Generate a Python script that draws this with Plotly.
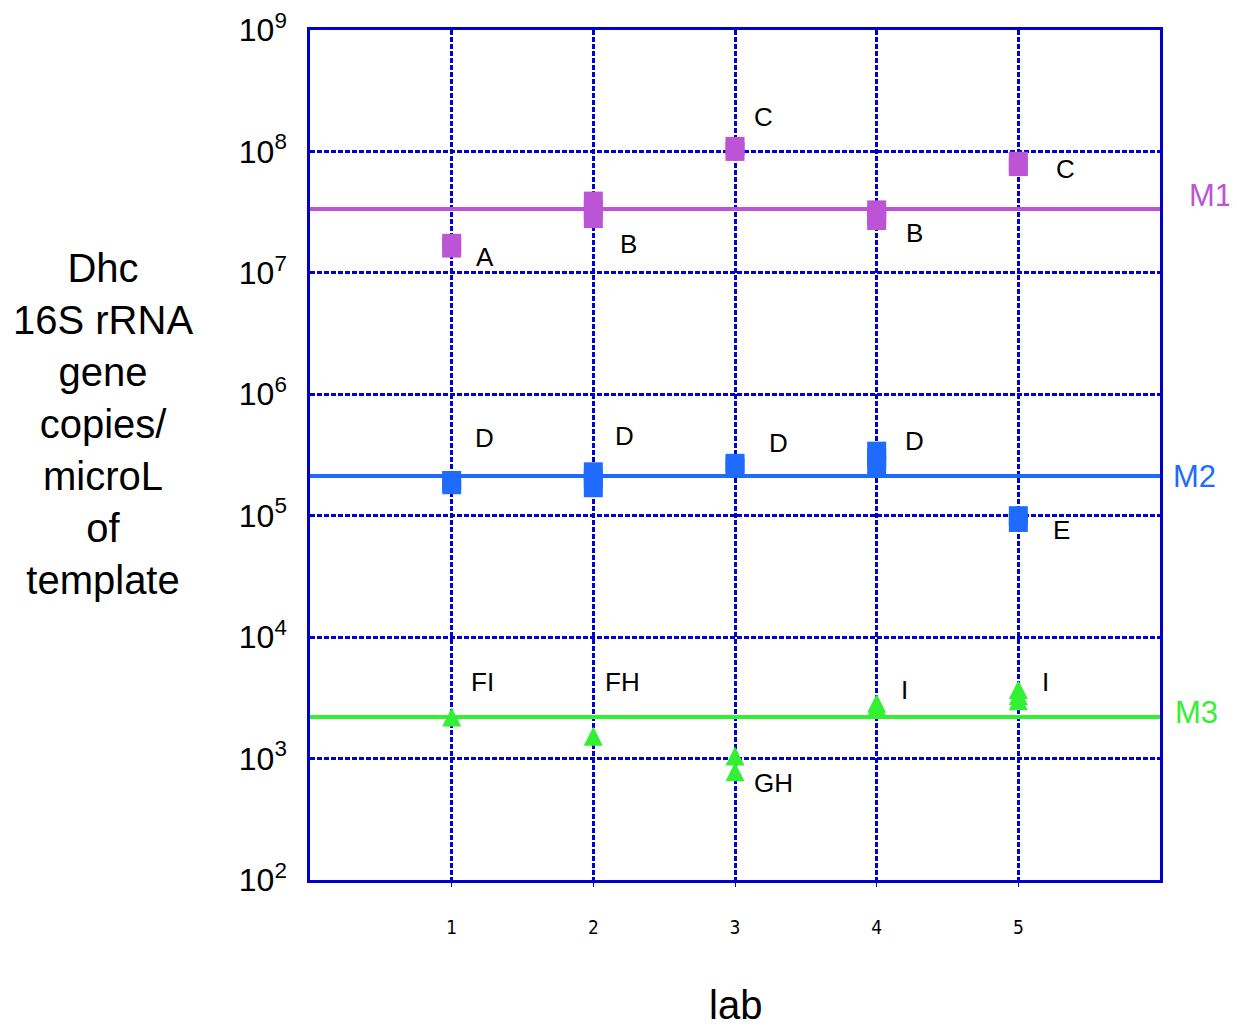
import math
import plotly.graph_objects as go

labs = [1, 2, 3, 4, 5]
lab_ticks = ["1", "2", "3", "4", "5"]

# replicate measurements per lab (copies/microL)
m1_x = [1, 1, 2, 2, 2, 3, 3, 4, 4, 4, 5, 5]
m1_y = [1.6e7, 1.75e7, 2.8e7, 3.3e7, 3.9e7, 1.0e8, 1.1e8, 2.7e7, 3.0e7, 3.3e7, 7.5e7, 8.3e7]
m2_x = [1, 1, 2, 2, 2, 3, 3, 4, 4, 4, 5, 5]
m2_y = [1.8e5, 1.95e5, 1.7e5, 2.0e5, 2.3e5, 2.5e5, 2.7e5, 2.6e5, 3.0e5, 3.4e5, 8.8e4, 1.0e5]
m3_x = [1, 2, 3, 3, 4, 4, 5, 5, 5]
m3_y = [2.2e3, 1.53e3, 1.05e3, 7.8e2, 2.65e3, 2.85e3, 3.0e3, 3.3e3, 3.7e3]

# method means (horizontal lines)
method_names = ["M1", "M2", "M3"]
method_means = [3.36e7, 2.12e5, 2.2e3]
method_colors = ["#BB55D6", "#1F6BFF", "#33F033"]
method_label_dx = [27, 11, 13]
method_label_dy = [13, 0, 4]

# significance letters
letters = ["A", "B", "C", "B", "C", "D", "D", "D", "D", "E", "FI", "FH", "GH", "I", "I"]
letter_x = [1.235, 2.245, 3.198, 4.264, 5.336, 1.235, 2.217, 3.304, 4.264, 5.308,
            1.221, 2.209, 3.275, 4.193, 5.195]
letter_logy = [7.131, 7.238, 8.283, 7.328, 7.855, 5.640, 5.656, 5.599, 5.615, 4.883,
               3.631, 3.631, 2.799, 3.565, 3.631]

y_tickvals = [1e2, 1e3, 1e4, 1e5, 1e6, 1e7, 1e8, 1e9]
y_ticktext = ["10<sup>%d</sup>" % k for k in range(2, 10)]

GRID = "#0000D0"
Y_RANGE = [2, 9]
PLOT_H = 850
TRI = 19
# overlay axis so that arrow-up triangles (tip anchored) appear centred on their value
tri_shift = (TRI / 2) / PLOT_H * (Y_RANGE[1] - Y_RANGE[0])

fig = go.Figure()

for name, mean, col in zip(method_names, method_means, method_colors):
    fig.add_trace(go.Scatter(x=[0, 6], y=[mean, mean], mode="lines",
                             line=dict(color=col, width=4), showlegend=False,
                             cliponaxis=False, hoverinfo="skip"))

fig.add_trace(go.Scatter(x=m1_x, y=m1_y, mode="markers", showlegend=False,
                         marker=dict(symbol="square", size=19, color=method_colors[0])))
fig.add_trace(go.Scatter(x=m2_x, y=m2_y, mode="markers", showlegend=False,
                         marker=dict(symbol="square", size=19, color=method_colors[1])))
fig.add_trace(go.Scatter(x=m3_x, y=m3_y, mode="markers", showlegend=False, yaxis="y2",
                         marker=dict(symbol="arrow-up", size=TRI, color=method_colors[2],
                                     line=dict(width=0))))

annotations = []
for t, lx, ly in zip(letters, letter_x, letter_logy):
    annotations.append(dict(x=lx, y=ly, xref="x", yref="y", text=t, showarrow=False,
                            font=dict(family="Arial", size=26, color="black")))

for name, mean, col, dx, dy in zip(method_names, method_means, method_colors,
                                   method_label_dx, method_label_dy):
    annotations.append(dict(x=1.0, y=math.log10(mean), xref="paper", yref="y",
                            text=name, showarrow=False, xanchor="left",
                            xshift=dx, yshift=dy,
                            font=dict(family="Arial", size=31, color=col)))

annotations.append(dict(x=-0.2435, y=0.536, xref="paper", yref="paper",
                        text="Dhc<br>16S rRNA<br>gene<br>copies/<br>microL<br>of<br>template",
                        showarrow=False, xanchor="center", yanchor="middle", align="center",
                        font=dict(family="Arial", size=40, color="black")))
annotations.append(dict(x=0.5, y=-0.147, xref="paper", yref="paper", text="lab",
                        showarrow=False, xanchor="center", yanchor="middle",
                        font=dict(family="Arial", size=40, color="black")))

fig.update_layout(
    width=1229, height=1020,
    margin=dict(l=302, r=77, t=22, b=148, autoexpand=False),
    paper_bgcolor="white", plot_bgcolor="white",
    annotations=annotations,
    xaxis=dict(range=[0, 6], tickvals=labs, ticktext=lab_ticks, automargin=False,
               showgrid=True, gridcolor=GRID, gridwidth=2.6, griddash="5px,2px",
               showline=True, linecolor=GRID, linewidth=2.5, mirror=True,
               zeroline=False, ticks="outside", ticklen=4, tickcolor=GRID,
               ticklabelstandoff=24,
               tickfont=dict(family="DejaVu Sans Condensed", size=19, color="black")),
    yaxis=dict(type="log", range=Y_RANGE, tickvals=y_tickvals, ticktext=y_ticktext,
               automargin=False,
               showgrid=True, gridcolor=GRID, gridwidth=2.6, griddash="5px,2px",
               showline=True, linecolor=GRID, linewidth=2.5, mirror=True,
               zeroline=False, ticks="", ticklabelstandoff=14,
               ticklabeloverflow="allow",
               tickfont=dict(family="Arial", size=32, color="black")),
    yaxis2=dict(type="log", overlaying="y", range=[Y_RANGE[0] - tri_shift, Y_RANGE[1] - tri_shift],
                visible=False, showgrid=False, automargin=False),
)

fig.write_html("out.html")
